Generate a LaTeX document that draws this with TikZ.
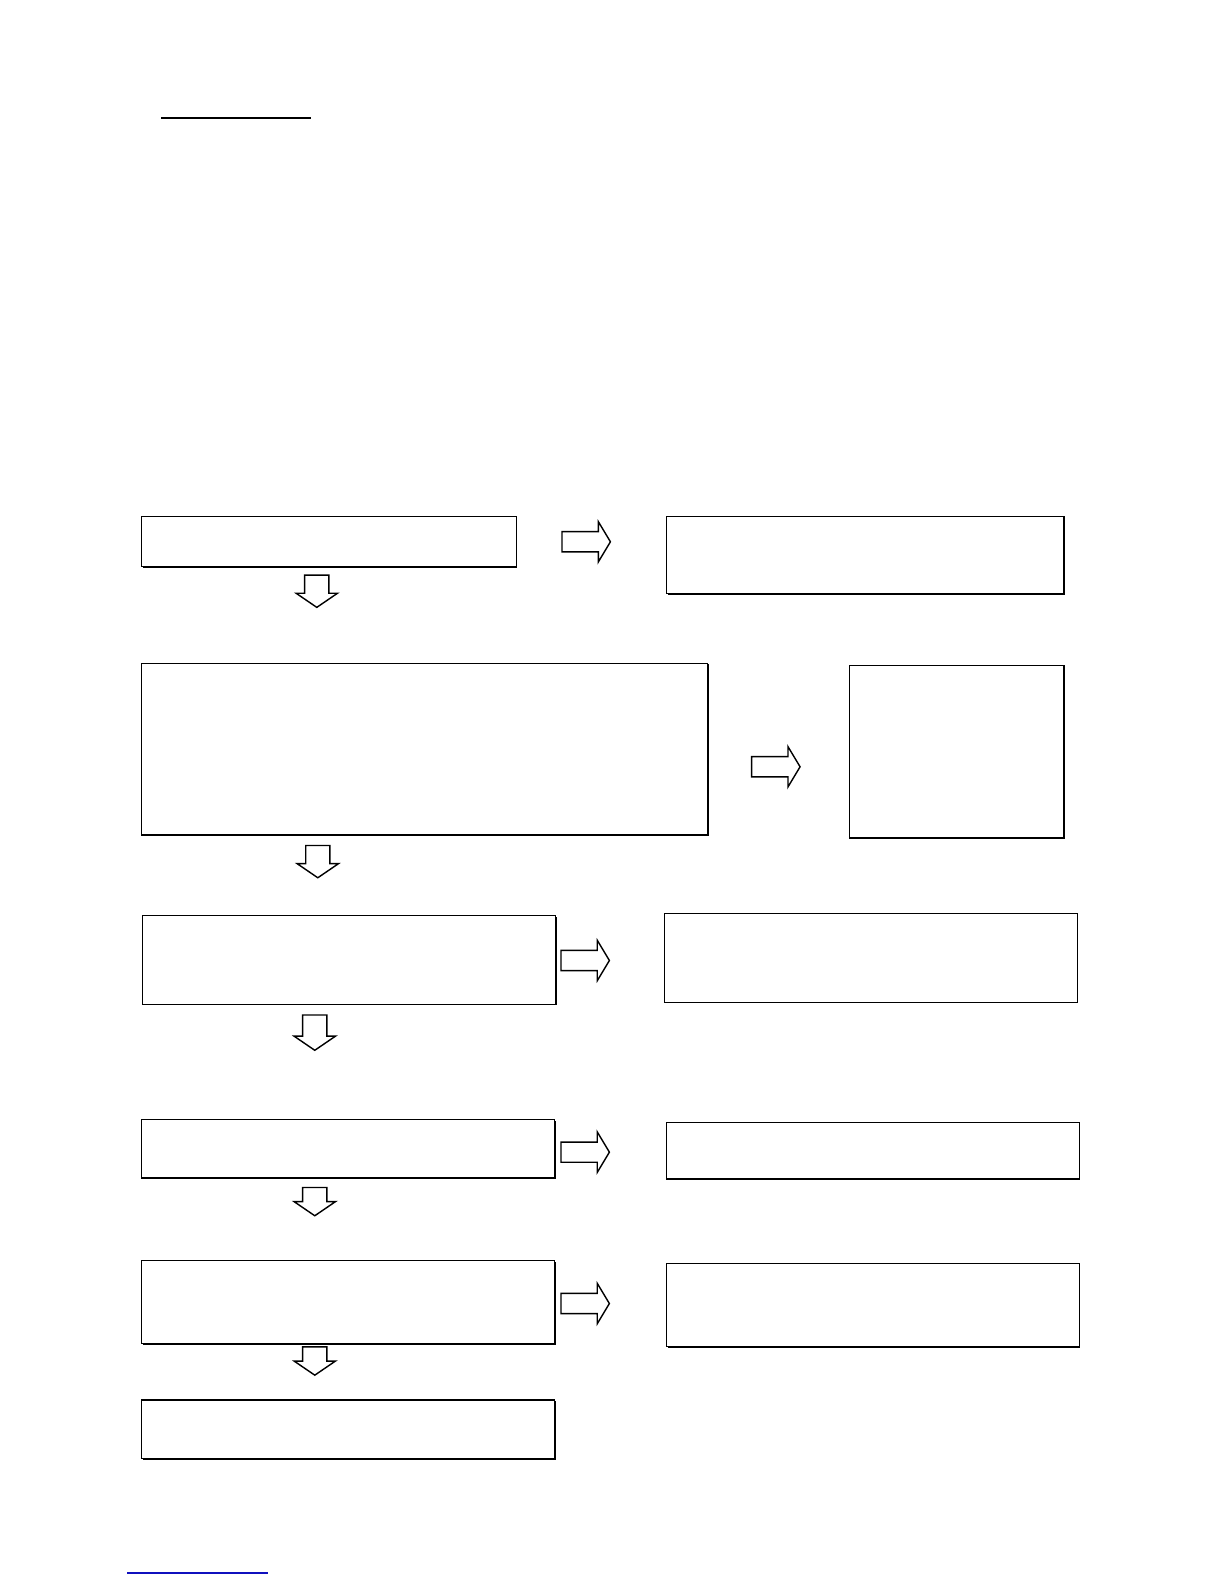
\documentclass[tikz,border=0pt]{standalone}
\usetikzlibrary{shadows}
\definecolor{linkblue}{RGB}{16,16,190}
\tikzset{
  box/.style={draw, fill=white, line width=1.2pt, inner sep=0pt, anchor=north west,
    drop shadow={shadow xshift=1pt, shadow yshift=-1pt, fill=black, opacity=1}},
  boxsize/.style 2 args={minimum width=#1pt, minimum height=#2pt},
  blockline/.style={draw, fill=white, line width=1.4pt, line join=miter},
  pics/blockdown/.style={code={
    \draw[blockline] (-12,0) -- (12,0) -- (12,#1-14) -- (20.5,#1-14) -- (0,#1)
      -- (-20.5,#1-14) -- (-12,#1-14) -- cycle;}},
  pics/blockright/.style={code={
    \draw[blockline] (0,-10) -- (36,-10) -- (36,-20) -- (48,0) -- (36,20)
      -- (36,10) -- (0,10) -- cycle;}},
}
\begin{document}
\begin{tikzpicture}[x=1pt, y=-1pt]
  \useasboundingbox (0,0) rectangle (1213,1570);

  % rule lines at top and bottom
  \coordinate (toprule1) at (160,117);
  \coordinate (toprule2) at (308,117);
  \draw[line width=1.6pt] (toprule1) -- (toprule2);
  \coordinate (link1) at (126,1559);
  \coordinate (link2) at (266,1559);
  \draw[linkblue, line width=1.5pt] (link1) -- (link2);

  % left column
  \node (start) [box, boxsize={371}{50}] at (140,511) {};
  \node (stepB) [box, boxsize={561}{170}] at (140,657) {};
  \node (stepC) [box, boxsize={409}{88}] at (141,907) {};
  \node (stepD) [box, boxsize={409}{58}] at (140,1109) {};
  \node (stepE) [box, boxsize={409}{82}] at (140,1249) {};
  \node (finish) [box, boxsize={409}{58}] at (140,1387) {};

  % right column
  \node (outA) [box, boxsize={394}{77}] at (660,511) {};
  \node (outB) [box, boxsize={213}{171}] at (841,659) {};
  \node (outC) [box, boxsize={409}{88}] at (658,905) {};
  \node (outD) [box, boxsize={409}{56}] at (660,1112) {};
  \node (outE) [box, boxsize={409}{82}] at (660,1252) {};

  % downward block arrows
  \pic at (314,570) {blockdown=32};
  \pic at (315,838) {blockdown=32};
  \pic at (312,1006) {blockdown=35};
  \pic at (312,1177) {blockdown=28};
  \pic at (312,1335) {blockdown=28};

  % rightward block arrows
  \pic at (557,537) {blockright};
  \pic at (745,760) {blockright};
  \pic at (556,952) {blockright};
  \pic at (556,1142) {blockright};
  \pic at (556,1292) {blockright};
\end{tikzpicture}
\end{document}
